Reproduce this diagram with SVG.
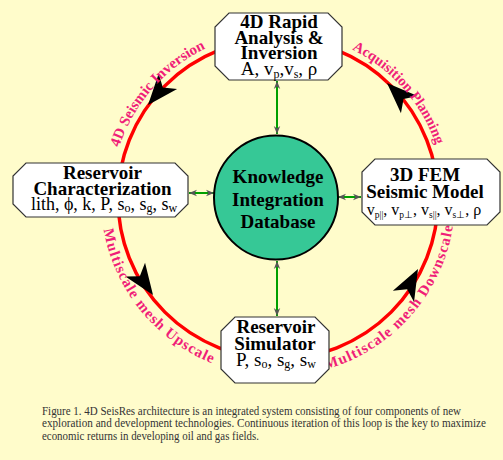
<svg xmlns="http://www.w3.org/2000/svg" width="503" height="460" viewBox="0 0 503 460">
<style>
.bg{fill:#FFFCCB}
.node{fill:#FFFFFF;stroke:#333;stroke-width:1.2}
.t{font-family:"Liberation Serif","Times New Roman",serif;font-size:19px;font-weight:bold;fill:#000;text-anchor:middle}
.v{font-family:"Liberation Serif","Times New Roman",serif;font-size:19px;fill:#000;text-anchor:middle}
.sub{font-size:12px}
.loop{fill:none;stroke:#FF0000;stroke-width:3.5}
.lbl{font-family:"Liberation Serif","Times New Roman",serif;font-size:15px;font-weight:bold;fill:#F01E78;text-anchor:middle}
.conn{stroke:#00A000;stroke-width:2;fill:none}
.cap{font-family:"Liberation Serif","Times New Roman",serif;font-size:11.5px;fill:#333}
</style>
<defs>
<marker id="ah" viewBox="0 0 10 10" refX="10" refY="5" markerWidth="8" markerHeight="8" markerUnits="userSpaceOnUse" orient="auto-start-reverse">
<path d="M0,1 L10,5 L0,9 L3,5 Z" fill="#555"/>
</marker>
<path id="loopArrow" d="M0,0 L-31,-12 L-23,0 L-31,12 Z" fill="#000"/>
<path id="topArc" d="M111,199 A167,167 0 0 1 445,199"/>
<path id="botArc" d="M101,199 A177,177 0 0 0 455,199"/>
</defs>
<rect class="bg" x="0" y="0" width="503" height="460"/>

<g id="loop">
<circle class="loop" cx="278" cy="199" r="160"/>
<use href="#loopArrow" transform="translate(148,105) rotate(130)"/>
<use href="#loopArrow" transform="translate(153,295) rotate(55)"/>
<use href="#loopArrow" transform="translate(418,269) rotate(-62)"/>
<use href="#loopArrow" transform="translate(387,83) rotate(-136)"/>
<text class="lbl"><textPath href="#topArc" startOffset="120">4D Seismic Inversion</textPath></text>
<text class="lbl" style="font-size:14.5px"><textPath href="#topArc" startOffset="404">Acquisition Planning</textPath></text>
<text class="lbl" style="letter-spacing:1px"><textPath href="#botArc" startOffset="121">Multiscale mesh Upscale</textPath></text>
<text class="lbl" style="letter-spacing:1.1px"><textPath href="#botArc" startOffset="428">Multiscale mesh Downscale</textPath></text>
</g>

<g id="connectors">
<line class="conn" x1="277" y1="81" x2="277" y2="134" marker-start="url(#ah)" marker-end="url(#ah)"/>
<line class="conn" x1="277" y1="261" x2="277" y2="316" marker-start="url(#ah)" marker-end="url(#ah)"/>
<line class="conn" x1="189" y1="193" x2="214" y2="193" marker-start="url(#ah)" marker-end="url(#ah)"/>
<line class="conn" x1="338" y1="197" x2="361" y2="197" marker-start="url(#ah)" marker-end="url(#ah)"/>
</g>

<g id="database">
<circle cx="276" cy="197.5" r="62" fill="#36C896" stroke="#000" stroke-width="2"/>
<text class="t" x="278" y="183">Knowledge</text>
<text class="t" x="278" y="206">Integration</text>
<text class="t" x="278" y="228">Database</text>
</g>

<g id="rapid-analysis">
<polygon class="node" points="229,13 328,13 342,27 342,66 328,80 229,80 215,66 215,27"/>
<text class="t" x="279" y="28">4D Rapid</text>
<text class="t" x="279" y="43.5">Analysis &amp;</text>
<text class="t" x="279" y="59">Inversion</text>
<text class="v" x="279" y="75">A, v<tspan class="sub" dy="3">p</tspan><tspan dy="-3">,v</tspan><tspan class="sub" dy="3">s</tspan><tspan dy="-3">, ρ</tspan></text>
</g>

<g id="reservoir-characterization">
<polygon class="node" points="26,163 175,163 188,176 188,204 175,217 26,217 13,204 13,176"/>
<text class="t" x="102.5" y="179">Reservoir</text>
<text class="t" x="102.5" y="195">Characterization</text>
<text class="v" x="104" y="210" style="font-size:18px">lith, ϕ, k, P, s<tspan class="sub" dy="2">o</tspan><tspan dy="-2">, s</tspan><tspan class="sub" dy="2">g</tspan><tspan dy="-2">, s</tspan><tspan class="sub" dy="2">w</tspan></text>
</g>

<g id="fem-model">
<polygon class="node" points="375,159 487,159 500,172 500,212 487,225 375,225 362,212 362,172"/>
<text class="t" x="425" y="180.5">3D FEM</text>
<text class="t" x="425" y="198">Seismic Model</text>
<text class="v" x="424" y="215" style="font-size:16px">v<tspan style="font-size:9.5px" dy="3">p||</tspan><tspan dy="-3">, v</tspan><tspan style="font-size:9.5px" dy="3">p⊥</tspan><tspan dy="-3">, v</tspan><tspan style="font-size:9.5px" dy="3">s||</tspan><tspan dy="-3">, v</tspan><tspan style="font-size:9.5px" dy="3">s⊥</tspan><tspan dy="-3">,  ρ</tspan></text>
</g>

<g id="reservoir-simulator">
<polygon class="node" points="235,317 315,317 329,331 329,369 315,383 235,383 221,369 221,331"/>
<text class="t" x="276" y="333">Reservoir</text>
<text class="t" x="275" y="349.5">Simulator</text>
<text class="v" x="276" y="366">P, s<tspan class="sub" dy="2">o</tspan><tspan dy="-2">, s</tspan><tspan class="sub" dy="2">g</tspan><tspan dy="-2">, s</tspan><tspan class="sub" dy="2">w</tspan></text>
</g>

<g id="caption">
<text class="cap" x="42" y="414.5" textLength="419" lengthAdjust="spacingAndGlyphs">Figure 1. 4D SeisRes architecture is an integrated system consisting of four components of new</text>
<text class="cap" x="42" y="427" textLength="444" lengthAdjust="spacingAndGlyphs">exploration and development technologies.  Continuous iteration of this loop is the key to maximize</text>
<text class="cap" x="42" y="439.5" textLength="217" lengthAdjust="spacingAndGlyphs">economic returns in developing oil and gas fields.</text>
</g>
</svg>
